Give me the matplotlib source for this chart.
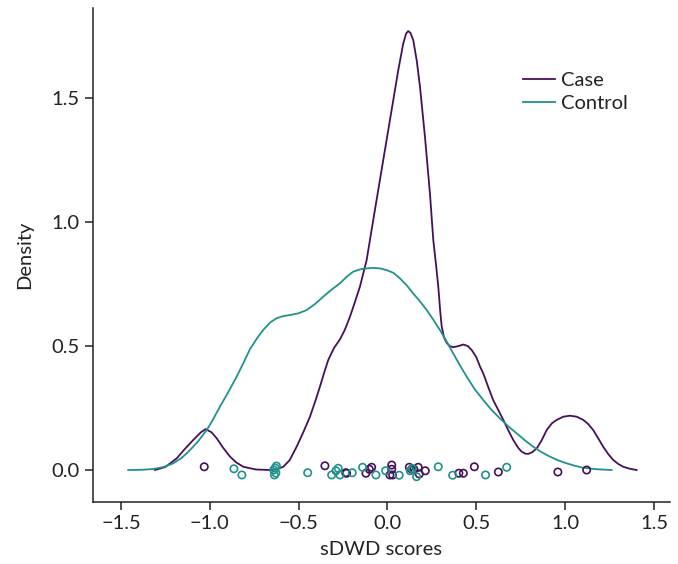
import matplotlib
matplotlib.use("Agg")
import matplotlib.pyplot as plt

plt.rcParams['font.family'] = ['Lato', 'DejaVu Sans']

# Density curves
case_x = [-1.308, -1.250, -1.186, -1.140, -1.093, -1.050, -1.023, -0.990, -0.961, -0.925, -0.886,
          -0.850, -0.811, -0.740, -0.661, -0.620, -0.586, -0.550, -0.511, -0.475, -0.436, -0.405,
          -0.380, -0.355, -0.333, -0.300, -0.267, -0.240, -0.211, -0.185, -0.155, -0.117, -0.080,
          -0.033, 0.014, 0.061, 0.089, 0.105, 0.117, 0.130, 0.145, 0.165, 0.183, 0.211, 0.239,
          0.258, 0.273, 0.286, 0.297, 0.305, 0.318, 0.333, 0.350, 0.370, 0.400, 0.427, 0.452,
          0.474, 0.500, 0.521, 0.539, 0.567, 0.595, 0.625, 0.652, 0.680, 0.708, 0.735, 0.755,
          0.775, 0.793, 0.815, 0.840, 0.868, 0.896, 0.925, 0.952, 0.990, 1.027, 1.065, 1.102,
          1.130, 1.158, 1.186, 1.214, 1.243, 1.271, 1.300, 1.327, 1.365, 1.402]
case_y = [0.000, 0.012, 0.047, 0.085, 0.121, 0.152, 0.165, 0.152, 0.128, 0.090, 0.054,
          0.030, 0.013, 0.002, 0.000, 0.004, 0.013, 0.040, 0.094, 0.150, 0.215, 0.280,
          0.336, 0.395, 0.444, 0.493, 0.527, 0.565, 0.618, 0.673, 0.739, 0.847, 1.008,
          1.210, 1.411, 1.613, 1.720, 1.760, 1.770, 1.762, 1.734, 1.650, 1.546, 1.344, 1.116,
          0.927, 0.830, 0.740, 0.640, 0.580, 0.535, 0.513, 0.500, 0.495, 0.500, 0.506, 0.500,
          0.484, 0.455, 0.417, 0.390, 0.335, 0.282, 0.240, 0.202, 0.160, 0.121, 0.090, 0.074,
          0.066, 0.065, 0.072, 0.087, 0.120, 0.161, 0.188, 0.202, 0.215, 0.219, 0.215, 0.202,
          0.185, 0.161, 0.128, 0.094, 0.064, 0.040, 0.024, 0.013, 0.005, 0.000]

ctrl_x = [-1.459, -1.380, -1.318, -1.260, -1.205, -1.160, -1.130, -1.100, -1.070, -1.045, -1.017,
          -0.980, -0.943, -0.895, -0.849, -0.810, -0.774, -0.735, -0.699, -0.660, -0.624, -0.590,
          -0.549, -0.500, -0.455, -0.410, -0.361, -0.315, -0.267, -0.230, -0.192, -0.150, -0.117,
          -0.080, -0.042, 0.000, 0.033, 0.070, 0.108, 0.145, 0.183, 0.221, 0.258, 0.295, 0.333,
          0.370, 0.408, 0.446, 0.490, 0.539, 0.585, 0.633, 0.680, 0.727, 0.773, 0.820, 0.867,
          0.914, 0.960, 1.008, 1.055, 1.102, 1.180, 1.262]
ctrl_y = [0.000, 0.001, 0.004, 0.012, 0.027, 0.048, 0.067, 0.089, 0.112, 0.135, 0.161,
          0.206, 0.255, 0.315, 0.376, 0.432, 0.487, 0.530, 0.565, 0.595, 0.612, 0.620,
          0.625, 0.632, 0.645, 0.668, 0.699, 0.727, 0.753, 0.779, 0.800, 0.810, 0.813,
          0.815, 0.813, 0.805, 0.795, 0.773, 0.745, 0.712, 0.680, 0.645, 0.606, 0.565, 0.518,
          0.470, 0.422, 0.376, 0.327, 0.282, 0.243, 0.208, 0.176, 0.148, 0.120, 0.094, 0.072,
          0.054, 0.039, 0.027, 0.017, 0.009, 0.003, 0.000]

# Jittered observations
case_pts = [-1.031, -0.352, -0.235, -0.230, -0.121, -0.102, -0.089, 0.024, 0.024, 0.014,
            0.029, 0.123, 0.136, 0.149, 0.173, 0.179, 0.213, 0.402, 0.427, 0.489, 0.624,
            0.959, 1.121]
case_jit = [0.013, 0.017, -0.011, -0.013, -0.013, 0.003, 0.011, 0.020, 0.003, -0.020,
            -0.020, 0.011, 0.003, 0.003, 0.011, -0.016, -0.003, -0.013, -0.013, 0.013, -0.008,
            -0.008, 0.000]
ctrl_pts = [-0.864, -0.819, -0.625, -0.632, -0.640, -0.628, -0.636, -0.449, -0.314, -0.290,
            -0.277, -0.267, -0.198, -0.140, -0.065, -0.010, 0.066, 0.128, 0.140, 0.164,
            0.286, 0.367, 0.552, 0.671]
ctrl_jit = [0.005, -0.020, 0.016, 0.008, 0.000, -0.012, -0.020, -0.011, -0.020, -0.003,
            0.007, -0.020, -0.011, 0.011, -0.020, -0.003, -0.021, -0.003, 0.005, -0.027,
            0.013, -0.021, -0.020, 0.011]

case_color = '#45105a'
ctrl_color = '#21918c'
labels = ['Case', 'Control']

fig = plt.figure(figsize=(6.78, 5.64), dpi=100)
ax = fig.add_axes([93/678, 62/564, 577/678, 494/564])

ax.plot(case_x, case_y, color=case_color, lw=1.3, label=labels[0])
ax.plot(ctrl_x, ctrl_y, color=ctrl_color, lw=1.3, label=labels[1])
ax.scatter(case_pts, case_jit, s=28, facecolors='none', edgecolors=case_color, linewidths=1.2, zorder=3)
ax.scatter(ctrl_pts, ctrl_jit, s=28, facecolors='none', edgecolors=ctrl_color, linewidths=1.2, zorder=3)

ax.set_xlim(-1.657, 1.59)
ax.set_ylim(-0.129, 1.863)
ax.set_xticks([-1.5, -1.0, -0.5, 0.0, 0.5, 1.0, 1.5])
ax.set_xticklabels(['\u22121.5', '\u22121.0', '\u22120.5', '0.0', '0.5', '1.0', '1.5'])
ax.set_yticks([0.0, 0.5, 1.0, 1.5])
ax.set_yticklabels(['0.0', '0.5', '1.0', '1.5'])
for s in ['top', 'right']:
    ax.spines[s].set_visible(False)
for s in ['left', 'bottom']:
    ax.spines[s].set_color('#222222')
    ax.spines[s].set_linewidth(1.1)
ax.tick_params(axis='both', labelsize=14.5, colors='#222222', length=6, width=1.1)
ax.set_xlabel('sDWD scores', fontsize=14.5, color='#222222', labelpad=6)
ax.set_ylabel('Density', fontsize=14.5, color='#222222', labelpad=13)

leg = ax.legend(loc='upper left', bbox_to_anchor=(0.714, 0.907), frameon=False,
                fontsize=14.5, handlelength=1.6, handletextpad=0.3, labelspacing=0.3)
for t in leg.get_texts():
    t.set_color('#222222')

fig.savefig('out.png', dpi=100)
